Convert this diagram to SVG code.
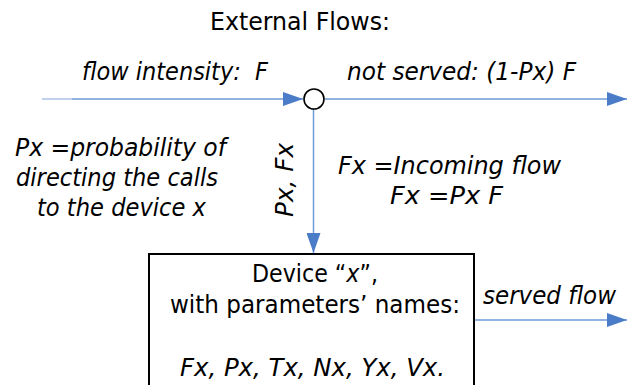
<svg xmlns="http://www.w3.org/2000/svg" width="627" height="385" viewBox="0 0 627 385">
<defs>
<style>
text{font-family:"DejaVu Sans Condensed","DejaVu Sans","Liberation Sans",sans-serif;font-stretch:condensed;font-size:25px;fill:#000;white-space:pre}
.i{font-style:italic}
.flow{stroke:#6d9ad8;stroke-width:1.5;fill:none}
</style>
<marker id="ah" viewBox="0 0 20 14" refX="20" refY="7" markerWidth="20" markerHeight="14" markerUnits="userSpaceOnUse" orient="auto">
<path d="M0,0 L20,7 L0,14 Z" fill="#4a7cc8"/>
</marker>
</defs>
<rect width="627" height="385" fill="#fff"/>
<text x="210" y="30" textLength="180" lengthAdjust="spacingAndGlyphs">External Flows:</text>
<g id="connectors">
<line x1="42" y1="99" x2="72" y2="99" stroke="#aac2e8" stroke-width="1.5"/>
<line class="flow" x1="72" y1="99" x2="303" y2="99" marker-end="url(#ah)"/>
<line class="flow" x1="325" y1="99" x2="627" y2="99" marker-end="url(#ah)"/>
<line class="flow" x1="313.5" y1="109" x2="313.5" y2="253" stroke="#9bb9e6" marker-end="url(#ah)"/>
<line class="flow" x1="474" y1="320" x2="627" y2="320" marker-end="url(#ah)"/>
<text class="i" x="82" y="80" textLength="186" lengthAdjust="spacingAndGlyphs">flow intensity:  F</text>
<text class="i" x="347" y="80" textLength="229" lengthAdjust="spacingAndGlyphs">not served: (1-Px) F</text>
<text class="i" transform="translate(293 217) rotate(-90)" x="0" y="0" textLength="74" lengthAdjust="spacingAndGlyphs">Px, Fx</text>
<text class="i" x="483" y="304" textLength="133" lengthAdjust="spacingAndGlyphs">served flow</text>
</g>
<g id="junction">
<circle cx="314" cy="99" r="10" fill="#fff" stroke="#000" stroke-width="1.6"/>
</g>
<g id="notes">
<text class="i" x="15" y="156" textLength="211" lengthAdjust="spacingAndGlyphs">Px =probability of</text>
<text class="i" x="16" y="186" textLength="202" lengthAdjust="spacingAndGlyphs">directing the calls</text>
<text class="i" x="37" y="216" textLength="169" lengthAdjust="spacingAndGlyphs">to the device x</text>
<text class="i" x="338" y="174" textLength="223" lengthAdjust="spacingAndGlyphs">Fx =Incoming flow</text>
<text class="i" x="390" y="204" textLength="113" lengthAdjust="spacingAndGlyphs">Fx =Px F</text>
</g>
<g id="device">
<rect x="149" y="254" width="325" height="150" fill="#fff" stroke="#000" stroke-width="2"/>
<text x="252" y="282" textLength="126" lengthAdjust="spacingAndGlyphs">Device “<tspan class="i">x</tspan>”,</text>
<text x="170" y="313" textLength="290" lengthAdjust="spacingAndGlyphs">with parameters’ names:</text>
<text class="i" x="180" y="376" textLength="265" lengthAdjust="spacingAndGlyphs">Fx, Px, Tx, Nx, Yx, Vx.</text>
</g>
</svg>
